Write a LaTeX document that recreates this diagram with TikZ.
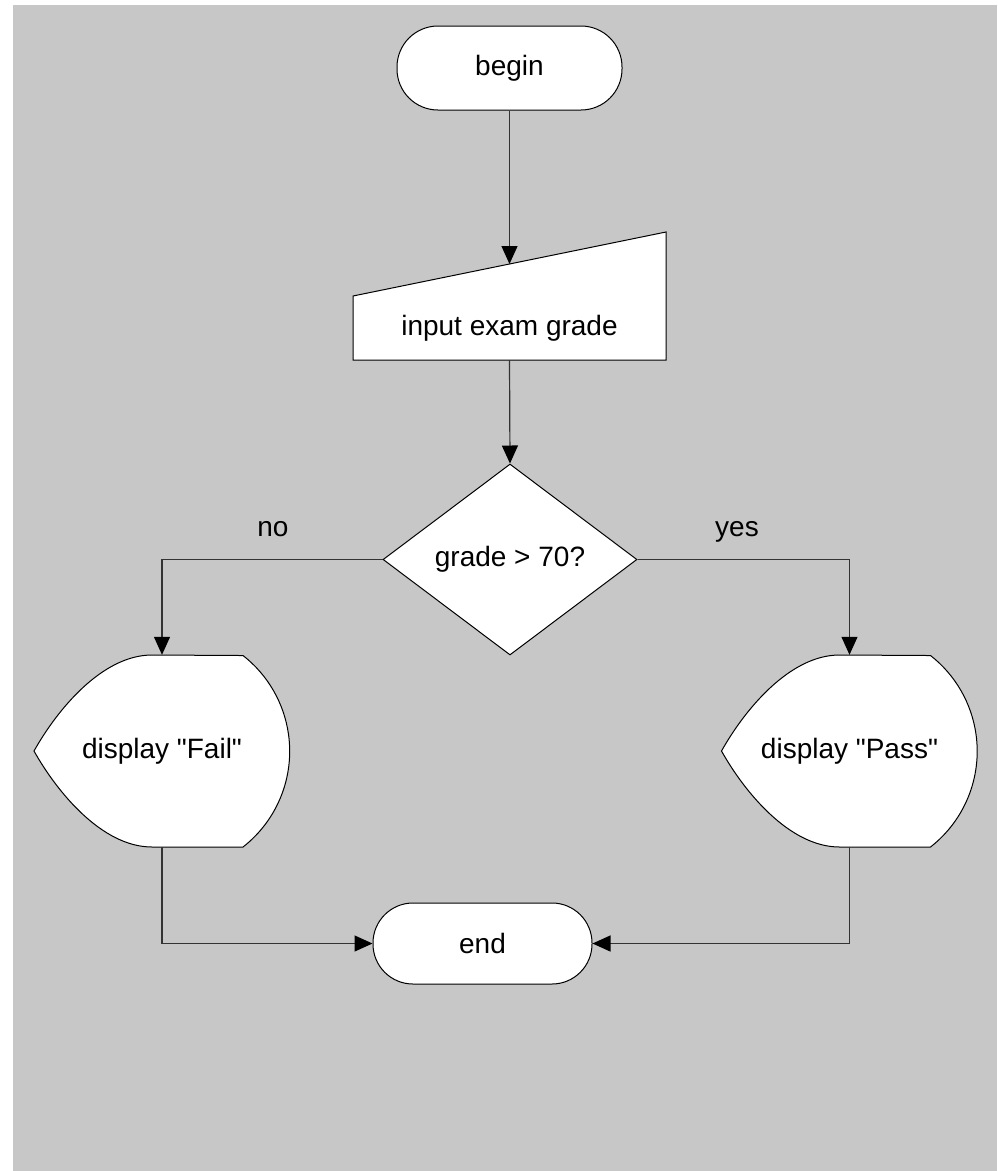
\documentclass[tikz,border=0pt]{standalone}
\usepackage{fontspec}
\setmainfont{Liberation Sans}
\usetikzlibrary{arrows.meta,shapes.geometric}
\definecolor{canvas}{HTML}{C7C7C7}
\definecolor{wire}{HTML}{333333}
\begin{document}
\begin{tikzpicture}[x=1pt,y=1pt,
  every node/.style={font=\fontsize{28}{34}\selectfont, inner sep=0pt},
  shapeline/.style={draw=black, line width=1pt, fill=white},
  terminal/.style={shapeline, rectangle, rounded corners=41pt,
    minimum width=225pt, minimum height=84pt},
  decision/.style={shapeline, diamond, aspect=1.33,
    minimum width=254pt, minimum height=191pt},
  holder/.style={minimum width=256pt, minimum height=192pt},
  conn/.style={draw=wire, line width=1.2pt,
    -{Triangle[length=18pt,width=16pt,color=black]}},
  lbl/.style={anchor=base}]
\useasboundingbox (0,0) rectangle (997,-1171);
\fill[canvas] (13,-5) rectangle (997,-1171);

% start terminal
\node[terminal] (begin) at (509.5,-68) {begin};

% manual input (slanted top edge)
\draw[shapeline] (353,-296) -- (666,-232) -- (666,-360) -- (353,-360) -- cycle;
\node[minimum width=313pt, minimum height=64pt] (input) at (509.5,-328) {input exam grade};
\coordinate (inputtop) at (509.5,-264);

% decision
\node[decision] (test) at (510,-559.5) {grade > 70?};

% display shapes: pointed left side, arched right side
\foreach \name/\cx/\txt in {fail/162/{display \textquotedbl Fail\textquotedbl},
                            pass/849.5/{display \textquotedbl Pass\textquotedbl}} {
  \draw[shapeline] (\cx-10,-655)
    .. controls (\cx-60,-655) and (\cx-105,-710) .. (\cx-128,-751)
    .. controls (\cx-105,-792) and (\cx-60,-847) .. (\cx-10,-847)
    -- (\cx+81,-847) arc[start angle=-52, end angle=52, radius=121.5] -- cycle;
  \node[holder] (\name) at (\cx,-751) {\txt};
}

% end terminal
\node[terminal, minimum width=219pt, minimum height=81pt, rounded corners=40pt]
  (finish) at (482.5,-943.5) {end};

% branch labels
\node[lbl] (nolbl) at (273,-536) {no};
\node[lbl] (yeslbl) at (737,-536) {yes};

% connectors
\draw[conn] (begin.south) -- (inputtop);
\draw[conn] (input.south) -- (test.north);
\draw[conn] (test.west) -| (fail.north);
\draw[conn] (test.east) -| (pass.north);
\draw[conn] (fail.south) |- (finish.west);
\draw[conn] (pass.south) |- (finish.east);
\end{tikzpicture}
\end{document}
